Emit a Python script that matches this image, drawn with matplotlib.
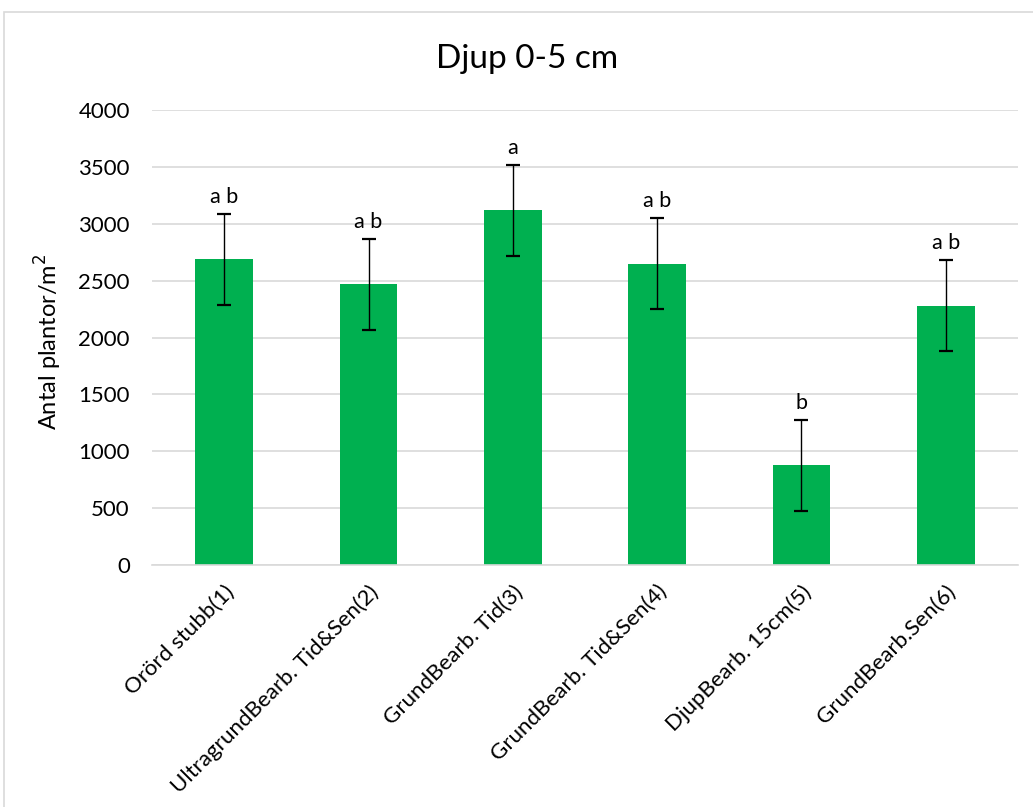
import matplotlib
matplotlib.use("Agg")
import matplotlib.pyplot as plt
from matplotlib.patches import Rectangle

# Behandlingar och medelvärden (plantor per m2), djup 0-5 cm
behandlingar = ["Orörd stubb(1)", "UltragrundBearb. Tid&Sen(2)", "GrundBearb. Tid(3)",
                "GrundBearb. Tid&Sen(4)", "DjupBearb. 15cm(5)", "GrundBearb.Sen(6)"]
medel = [2690, 2470, 3120, 2650, 875, 2280]
fel = [400, 400, 400, 400, 400, 400]
bokstaver = ["a b", "a b", "a", "a b", "b", "a b"]

plt.rcParams["font.family"] = ["Lato", "DejaVu Sans"]

fig = plt.figure(figsize=(10.33, 8.07), dpi=100)
ax = fig.add_axes([152 / 1033, 1 - 565 / 807, (1018 - 152) / 1033, (565 - 110) / 807])

# ram runt diagrammet
fig.patches.append(Rectangle((4 / 1033, -0.1), 1.2, 0.1 + 1 - 12 / 807, transform=fig.transFigure,
                             fill=False, edgecolor="#d9d9d9", linewidth=1.2))

x = list(range(len(behandlingar)))
ax.bar(x, medel, width=0.4, color="#00B050", zorder=2)
ax.errorbar(x, medel, yerr=fel, fmt="none", ecolor="black", elinewidth=1.0,
            capsize=5, capthick=1.6, zorder=3)

for xi, m, e, b in zip(x, medel, fel, bokstaver):
    ax.text(xi, m + e + 95, b, ha="center", va="baseline", fontsize=15.5)

ax.set_xlim(-0.5, len(behandlingar) - 0.5)
ax.set_ylim(0, 4000)
ax.set_yticks(range(0, 4001, 500))
ax.yaxis.grid(True, color="#d9d9d9", linewidth=1.2, zorder=0)
ax.set_axisbelow(True)

for s in ["top", "right", "left"]:
    ax.spines[s].set_visible(False)
ax.spines["bottom"].set_color("#d9d9d9")
ax.spines["bottom"].set_linewidth(1.2)
ax.tick_params(axis="both", length=0, labelsize=16)
ax.tick_params(axis="y", pad=16)

ax.set_xticks(x)
ax.set_xticklabels(behandlingar, rotation=45, ha="right", rotation_mode="anchor", fontsize=16)
ax.tick_params(axis="x", pad=12)

ax.set_ylabel("Antal plantor/m$^2$", fontsize=17)
ax.yaxis.set_label_coords(-0.102, 0.49)

fig.text(527 / 1033, 1 - 59 / 807, "Djup 0-5 cm", ha="center", va="center", fontsize=24)

fig.savefig("out.png", dpi=100)
